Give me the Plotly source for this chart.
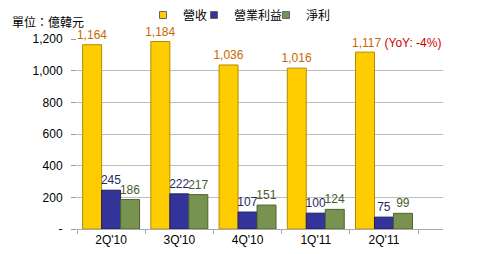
import plotly.graph_objects as go

categories = ["2Q'10", "3Q'10", "4Q'10", "1Q'11", "2Q'11"]
revenue = [1164, 1184, 1036, 1016, 1117]
op_profit = [245, 222, 107, 100, 75]
net_income = [186, 217, 151, 124, 99]
series_names = ["營收", "營業利益", "淨利"]
series_colors = ["#FFCC00", "#333399", "#77934F"]
y_ticks = [0, 200, 400, 600, 800, 1000, 1200]
y_tick_text = ["-", "200", "400", "600", "800", "1,000", "1,200"]
yoy_note = "(YoY: -4%)"

def fmt(v):
    return f"{v:,}"

num_font = "Arial, Liberation Sans, sans-serif"
cjk_font = "Noto Sans CJK TC, sans-serif"

fig = go.Figure()
rev_text = [fmt(v) for v in revenue[:-1]] + [""]
fig.add_trace(go.Bar(x=categories, y=revenue, name=series_names[0], showlegend=False,
                     marker=dict(color=series_colors[0], line=dict(color="#B08C00", width=1)),
                     text=rev_text, textposition="outside",
                     textfont=dict(color="#CC6600", size=12, family=num_font)))
fig.add_trace(go.Bar(x=categories, y=op_profit, name=series_names[1], showlegend=False,
                     marker=dict(color=series_colors[1], line=dict(color="#1F1F66", width=1)),
                     text=[fmt(v) for v in op_profit], textposition="outside",
                     textfont=dict(color="#1F2A66", size=12, family=num_font)))
fig.add_trace(go.Bar(x=categories, y=net_income, name=series_names[2], showlegend=False,
                     marker=dict(color=series_colors[2], line=dict(color="#4F6133", width=1)),
                     text=[fmt(v) for v in net_income], textposition="outside",
                     textfont=dict(color="#4A5A2A", size=12, family=num_font)))
fig.update_traces(cliponaxis=False, constraintext="none")

# legend entries with small square keys, each in its own legend box
legend_ids = ["legend", "legend2", "legend3"]
legend_text_px = [185, 236, 308]
for name, col, lid in zip(series_names, series_colors, legend_ids):
    fig.add_trace(go.Scatter(x=[None], y=[None], mode="markers", name=name, legend=lid,
                             marker=dict(symbol="square", size=7, color=col,
                                         line=dict(color="#666666", width=1))))

# last revenue label with YoY note
n = len(categories)
group_w = 1 - 0.165
x_last = (n - 1) - group_w / 3
fig.add_annotation(x=x_last, y=revenue[-1], xref="x", yref="y",
                   text=fmt(revenue[-1]) + " <span style='color:#CC0000'>" + yoy_note + "</span>",
                   showarrow=False, xanchor="left", yanchor="bottom", xshift=-15, yshift=0,
                   font=dict(color="#CC6600", size=12, family=num_font))

legend_common = dict(orientation="h", xanchor="left", y=(229-15)/190, yanchor="middle",
                     font=dict(size=12, color="black", family=cjk_font),
                     bgcolor="rgba(0,0,0,0)", itemwidth=30)
legends = {}
for lid, tx in zip(legend_ids, legend_text_px):
    legends[lid] = dict(legend_common, x=(tx - 42 - 77) / 366)

fig.update_layout(
    width=480, height=254,
    margin=dict(l=77, r=37, t=39, b=25, autoexpand=False),
    plot_bgcolor="white", paper_bgcolor="white",
    barmode="group", bargap=0.165, bargroupgap=0,
    title=dict(text="單位：億韓元", x=12/480, xanchor="left", xref="container",
               y=1-23/254, yanchor="middle", yref="container",
               font=dict(size=12, color="black", family=cjk_font)),
    showlegend=True,
    **legends,
)
fig.update_yaxes(range=[0, 1200], tickvals=y_ticks, ticktext=y_tick_text,
                 showgrid=True, gridcolor="#BDBDBD", gridwidth=1,
                 ticks="outside", ticklen=5, tickcolor="#999999",
                 ticklabelstandoff=6, zeroline=False, showline=False,
                 tickfont=dict(size=12, color="black", family=num_font))
fig.update_xaxes(showline=True, linecolor="#AAAAAA", linewidth=1,
                 ticks="outside", tickson="boundaries", ticklen=4, tickcolor="#AAAAAA",
                 tickfont=dict(size=12, color="black", family=num_font))
fig.write_html("out.html")
